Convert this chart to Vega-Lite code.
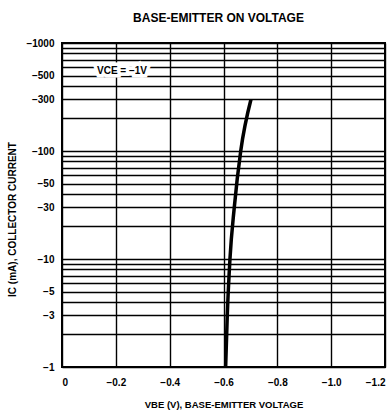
{
  "$schema": "https://vega.github.io/schema/vega-lite/v6.json",
  "width": 323,
  "height": 324,
  "autosize": {"type": "none"},
  "padding": {"left": 62, "top": 43, "right": 3, "bottom": 46},
  "background": "white",
  "title": {
    "text": "BASE-EMITTER ON VOLTAGE",
    "font": "Liberation Sans",
    "fontSize": 12,
    "fontWeight": "bold",
    "color": "black",
    "anchor": "middle",
    "offset": 13,
    "dx": -5
  },
  "config": {
    "view": {"stroke": "black", "strokeWidth": 2},
    "axis": {
      "labelFont": "Liberation Sans",
      "labelFontWeight": "bold",
      "labelFontSize": 10,
      "labelColor": "black",
      "titleFont": "Liberation Sans",
      "titleFontWeight": "bold",
      "titleColor": "black",
      "gridColor": "black",
      "gridOpacity": 1,
      "gridWidth": 1.4,
      "domain": false,
      "ticks": false
    }
  },
  "datasets": {
    "curve": [
      {"VBE": -0.608, "IC": -1},
      {"VBE": -0.614, "IC": -3},
      {"VBE": -0.624, "IC": -10},
      {"VBE": -0.640, "IC": -30},
      {"VBE": -0.664, "IC": -100},
      {"VBE": -0.702, "IC": -300}
    ],
    "note": [
      {"VBE": -0.223, "IC": -550, "label": "VCE = −1V"}
    ]
  },
  "layer": [
    {
      "data": {"name": "curve"},
      "mark": {"type": "line", "color": "black", "strokeWidth": 3.5, "interpolate": "monotone"},
      "encoding": {
        "x": {
          "field": "VBE",
          "type": "quantitative",
          "scale": {"domain": [0, -1.2], "nice": false, "zero": false},
          "axis": {
            "title": "VBE (V), BASE-EMITTER VOLTAGE",
            "titleFontSize": 9.5,
            "titlePadding": 12,
            "labelPadding": 10,
            "values": [0, -0.1, -0.2, -0.3, -0.4, -0.5, -0.6, -0.7, -0.8, -0.9, -1.0, -1.1, -1.2],
            "labelExpr": "datum.value == 0 ? '0' : (round(abs(datum.value) * 10) % 2 == 0 ? '−' + format(abs(datum.value), '.1f') : '')",
            "labelFlush": true,
            "labelFlushOffset": 0,
            "labelOverlap": false
          }
        },
        "y": {
          "field": "IC",
          "type": "quantitative",
          "scale": {"type": "log", "domain": [-1, -1000], "nice": false, "zero": false},
          "axis": {
            "title": "IC (mA), COLLECTOR CURRENT",
            "titleFontSize": 10,
            "titleX": -50,
            "titleY": 176,
            "titleAngle": -90,
            "titleBaseline": "middle",
            "titleAlign": "center",
            "labelPadding": 8,
            "values": [-1, -2, -3, -4, -5, -6, -7, -8, -9, -10, -20, -30, -40, -50, -60, -70, -80, -90, -100, -200, -300, -400, -500, -600, -700, -800, -900, -1000],
            "labelExpr": "indexof([1, 3, 5, 10, 30, 50, 100, 300, 500, 1000], abs(datum.value)) >= 0 ? '−' + abs(datum.value) : ''",
            "labelOverlap": false,
            "labelFlush": false
          }
        }
      }
    },
    {
      "data": {"name": "note"},
      "mark": {"type": "text", "font": "Liberation Sans", "fontWeight": "bold", "fontSize": 10, "stroke": "white", "strokeWidth": 7, "fill": "white"},
      "encoding": {
        "x": {"field": "VBE", "type": "quantitative"},
        "y": {"field": "IC", "type": "quantitative"},
        "text": {"field": "label"}
      }
    },
    {
      "data": {"name": "note"},
      "mark": {"type": "text", "font": "Liberation Sans", "fontWeight": "bold", "fontSize": 10, "color": "black"},
      "encoding": {
        "x": {"field": "VBE", "type": "quantitative"},
        "y": {"field": "IC", "type": "quantitative"},
        "text": {"field": "label"}
      }
    }
  ]
}
